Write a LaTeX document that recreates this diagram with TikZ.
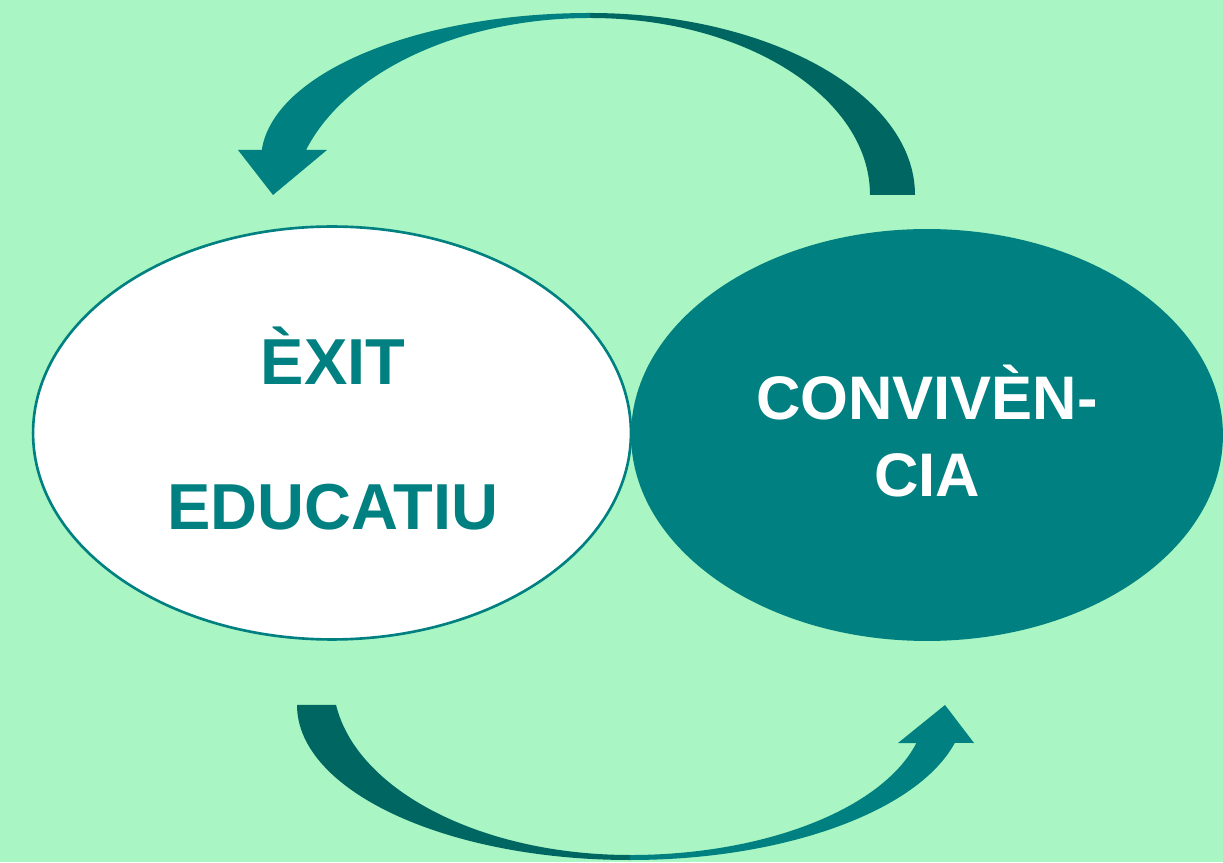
\documentclass[tikz,border=0pt]{standalone}
\usepackage{fontspec}
\setmainfont{Liberation Sans}
\usetikzlibrary{shapes.geometric}
\definecolor{bgreen}{HTML}{A9F5C4}
\definecolor{tealA}{HTML}{008080}
\definecolor{tealB}{HTML}{006661}

\begin{document}
\begin{tikzpicture}[x=0.02cm, y=0.02cm,
    bigword/.style={anchor=base, inner sep=0pt, font=\fontsize{#1}{#1}\selectfont\bfseries}]
    \fill[bgreen] (0,0) rectangle (1223,862);

    \node(conv) [ellipse, fill=tealA, minimum width=11.84cm, minimum height=8.24cm] at (927,427) {};
    \node(exit) [ellipse, draw=tealA, line width=1.5pt, fill=white, minimum width=11.96cm, minimum height=8.26cm] at (332,429) {};

    \node(exit1) [bigword=37, text=tealA] at (333,477) {ÈXIT};
    \node(exit2) [bigword=37, text=tealA] at (333,332) {EDUCATIU};
    \node(conv1) [bigword=35, text=white] at (927,442) {CONVIVÈN-};
    \node(conv2) [bigword=35, text=white] at (927,365) {CIA};

    % top arrow, from conv back to exit
    \fill[tealB] (915,667) arc[start angle=0, end angle=90, x radius=325, y radius=182]
        -- (590,844) arc[start angle=90, end angle=0, x radius=280, y radius=177] -- cycle;
    \fill[tealA] (590,849) arc[start angle=90, end angle=176.1, x radius=329, y radius=147]
        -- (238,712) -- (273,667) -- (327,712) -- (306,712)
        arc[start angle=161.79, end angle=90, x radius=299, y radius=192] -- cycle;

    % bottom arrow, from exit to conv
    \fill[tealB] (297,157) arc[start angle=180, end angle=270, x radius=333, y radius=155]
        -- (630,7) arc[start angle=270, end angle=188.21, x radius=297, y radius=175] -- cycle;
    \fill[tealA] (630,2) arc[start angle=270, end angle=345.81, x radius=335, y radius=155]
        -- (974,119) -- (945,157) -- (898,119) -- (916.4,119)
        arc[start angle=345.33, end angle=270, x radius=296, y radius=150] -- cycle;
\end{tikzpicture}
\end{document}
